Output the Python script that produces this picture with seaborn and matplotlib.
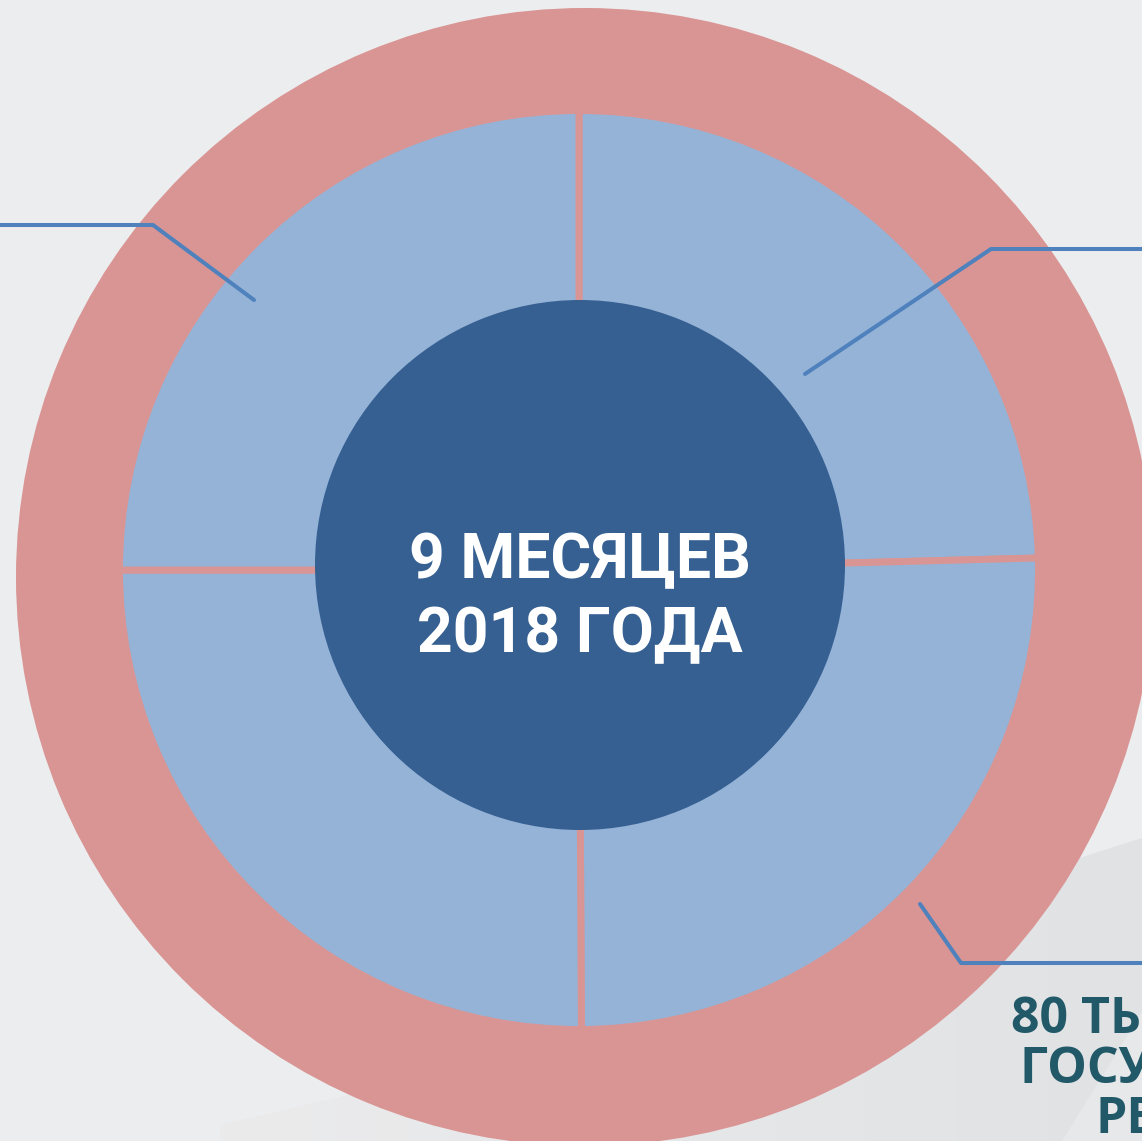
import matplotlib
matplotlib.use("Agg")
import matplotlib.pyplot as plt
from matplotlib.colors import LinearSegmentedColormap
import seaborn as sns
import pandas as pd
import numpy as np

W, H = 1142, 1141

# доли внутреннего кольца (градусы, по часовой от 12 часов)
segmentos = [88.5, 91.2, 90.3, 90.0]
titulo = ["9 МЕСЯЦЕВ", "2018 ГОДА"]
texto_derecha = ["80 ТЫ", "ГОСУ", "РЕ"]

# colores
fondo = "#ECEDEF"
rosa = "#D99594"
azul_claro = "#95B3D7"
azul_oscuro = "#366092"
azul_linea = "#4F81BD"
texto_color = "#215968"

sns.set_theme(style="white")
plt.rcParams["font.family"] = ["Roboto", "DejaVu Sans"]


def py(y):
    # pixel y (desde arriba) -> coordenada de datos
    return H - y


fig = plt.figure(figsize=(W / 100, H / 100), dpi=100, facecolor=fondo)
ax = fig.add_axes([0, 0, 1, 1])
ax.set_facecolor(fondo)

# forma gris de fondo abajo a la derecha (degradado)
cmap_fondo = LinearSegmentedColormap.from_list("f", ["#EBEBEC", "#E6E7E9", "#E1E2E4"])
grad = np.linspace(0, 1, 256).reshape(1, -1)
im = ax.imshow(grad, extent=[220, 1142, 0, py(838)], cmap=cmap_fondo, aspect="auto", zorder=0)
forma = plt.Polygon([[1142, py(838)], [1073, py(860)], [400, py(1083)], [220, py(1125)],
                     [220, 0], [1142, 0]], closed=True, facecolor="none", edgecolor="none",
                    transform=ax.transData)
ax.add_patch(forma)
im.set_clip_path(forma)
ax.fill([1142, 1062, 1142], [py(1012), py(1141), py(1141)], color="#E7E8EA", lw=0, zorder=0.5)

# anillo exterior
ax.pie([1], radius=569, center=(585, py(577)), colors=[rosa], frame=True,
       wedgeprops=dict(linewidth=0))

# anillo azul con 4 segmentos
ax.pie(segmentos, radius=459.5, center=(579, py(570)), startangle=90, counterclock=False,
       colors=[azul_claro] * len(segmentos), frame=True,
       wedgeprops=dict(edgecolor=rosa, linewidth=5.0))

# círculo central
ax.pie([1], radius=265, center=(580, py(565)), colors=[azul_oscuro], frame=True,
       wedgeprops=dict(linewidth=0))

ax.text(580, py(578), titulo[0], ha="center", va="baseline", color="white",
        fontsize=45, fontweight="bold")
ax.text(580, py(652), titulo[1], ha="center", va="baseline", color="white",
        fontsize=45, fontweight="bold")

# líneas guía
lineas = pd.DataFrame({
    "x": [0, 153, 254, 1142, 991, 805, 1142, 961, 920],
    "y": [py(225), py(225), py(300), py(249), py(249), py(374), py(963), py(963), py(904)],
    "g": ["a"] * 3 + ["b"] * 3 + ["c"] * 3,
})
sns.lineplot(data=lineas, x="x", y="y", units="g", estimator=None, sort=False,
             color=azul_linea, linewidth=2.9, ax=ax, legend=False)

# texto abajo a la derecha (cortado por el borde, como en el original)
for t, x0, yb in zip(texto_derecha, [1011, 1020, 1095], [1033, 1083, 1133]):
    ax.text(x0, py(yb), t, ha="left", va="baseline", color=texto_color,
            fontsize=36, fontweight="bold", family=["Open Sans", "DejaVu Sans"])

ax.set_xlim(0, W)
ax.set_ylim(0, H)
ax.set_aspect("auto")
ax.set_xlabel("")
ax.set_ylabel("")
ax.set_xticks([])
ax.set_yticks([])
for s in ax.spines.values():
    s.set_visible(False)

fig.savefig("out.png", dpi=100, facecolor=fondo)
